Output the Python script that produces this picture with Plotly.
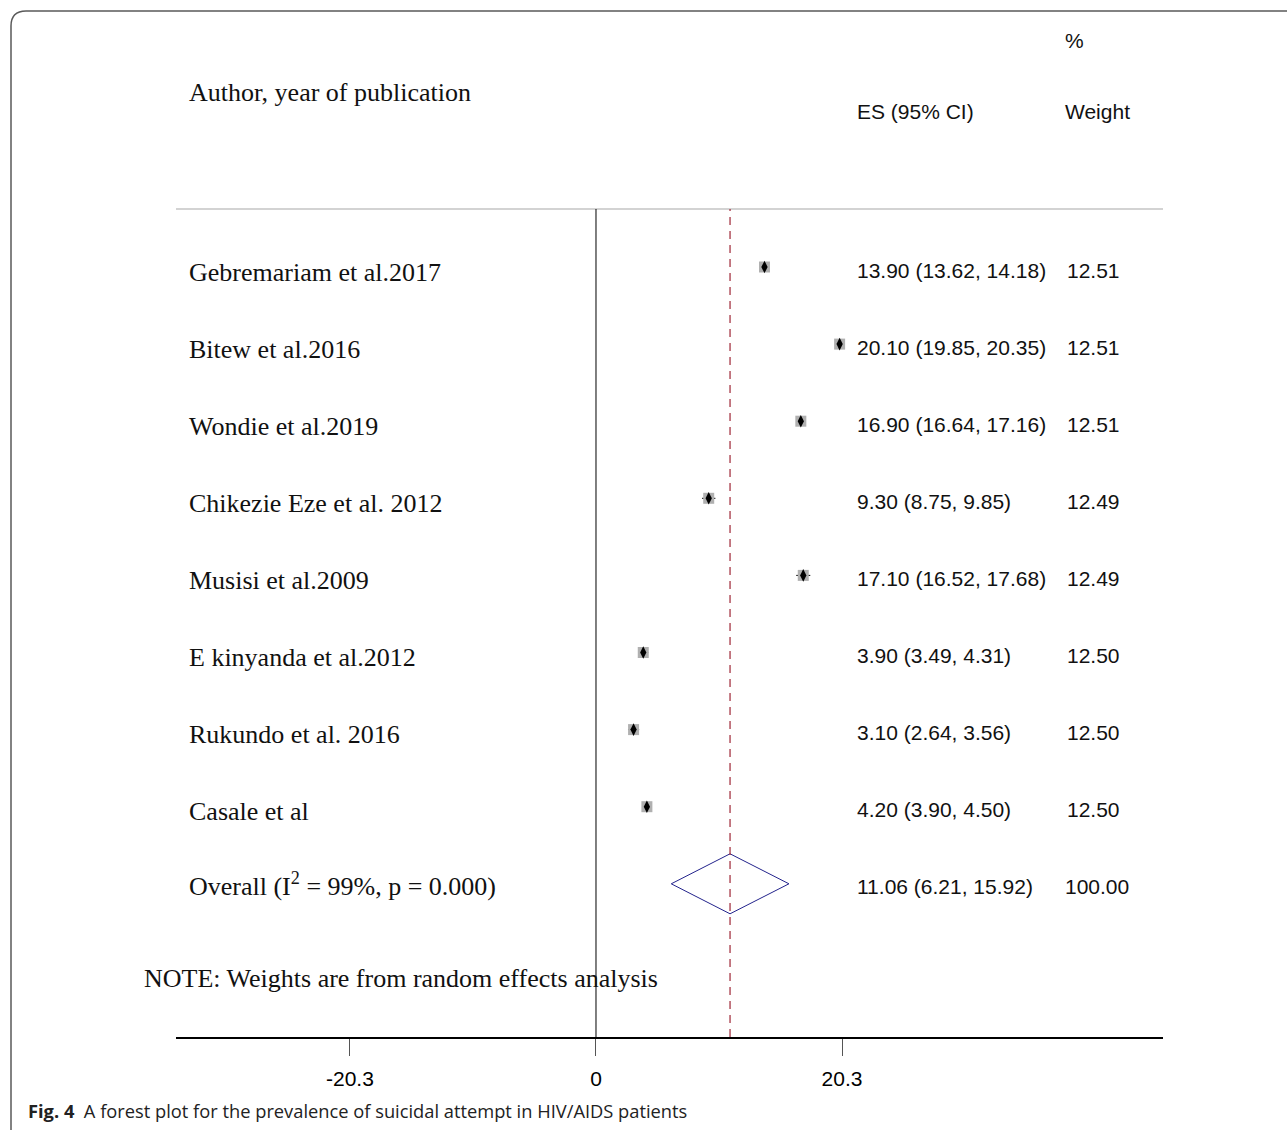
import plotly.graph_objects as go

# ---------------- data ----------------
studies = ["Gebremariam et al.2017", "Bitew et al.2016", "Wondie et al.2019",
           "Chikezie Eze et al. 2012", "Musisi et al.2009", "E kinyanda et al.2012",
           "Rukundo et al. 2016", "Casale et al"]
es = [13.90, 20.10, 16.90, 9.30, 17.10, 3.90, 3.10, 4.20]
ci_lo = [13.62, 19.85, 16.64, 8.75, 16.52, 3.49, 2.64, 3.90]
ci_hi = [14.18, 20.35, 17.16, 9.85, 17.68, 4.31, 3.56, 4.50]
weights = [12.51, 12.51, 12.51, 12.49, 12.49, 12.50, 12.50, 12.50]
overall_label = "Overall (I<sup>2</sup> = 99%, p = 0.000)"
overall_es, overall_lo, overall_hi, overall_w = 11.06, 6.21, 15.92, 100.00
tick_vals = [-20.3, 0, 20.3]
tick_text = ["-20.3", "0", "20.3"]

# ---------------- layout geometry ----------------
W, H = 1287, 1130
ML, MR, MT, MB = 176, 124, 0, 93
PW, PH = W - ML - MR, H - MT - MB
ROW0_PX, ROW_STEP = 267.0, 77.1
y_top = 1 - (ROW0_PX - MT) / ROW_STEP
y_bot = 1 + (H - MB - ROW0_PX) / ROW_STEP
X_RANGE = [-34.65, 46.78]

def px(x):
    return (x - ML) / PW

def py(y):
    return (H - MB - y) / PH

rows = list(range(1, len(studies) + 1))
overall_row = len(studies) + 1

SERIF = "Times New Roman, Liberation Serif, serif"
SANS = "Arial, Liberation Sans, sans-serif"

fig = go.Figure()

# study markers: grey weight box + CI + black diamond
fig.add_trace(go.Scatter(
    x=es, y=rows, mode="markers",
    marker=dict(symbol="square", size=11, color="#b0b0b0", line=dict(width=0)),
    error_x=dict(type="data", symmetric=False,
                 array=[h - e for h, e in zip(ci_hi, es)],
                 arrayminus=[e - l for e, l in zip(es, ci_lo)],
                 color="black", thickness=1, width=0),
    hoverinfo="skip", showlegend=False))
fig.add_trace(go.Scatter(
    x=es, y=rows, mode="markers",
    marker=dict(symbol="diamond-tall", size=9, color="black", line=dict(width=0)),
    hoverinfo="skip", showlegend=False))

# overall diamond
h = 30 / ROW_STEP
fig.add_trace(go.Scatter(
    x=[overall_lo, overall_es, overall_hi, overall_es, overall_lo],
    y=[overall_row, overall_row - h, overall_row, overall_row + h, overall_row],
    mode="lines", line=dict(color="#23238c", width=1),
    hoverinfo="skip", showlegend=False))

shapes = []
# header separator
shapes.append(dict(type="line", xref="paper", yref="paper", x0=0, x1=1,
                   y0=py(209), y1=py(209), line=dict(color="#c4c4c4", width=1.5)))
# null line at 0
shapes.append(dict(type="line", xref="x", yref="paper", x0=0, x1=0,
                   y0=0, y1=py(209), line=dict(color="black", width=1)))
# overall effect dashed line
shapes.append(dict(type="line", xref="x", yref="paper", x0=overall_es, x1=overall_es,
                   y0=0, y1=py(209), line=dict(color="#9e2636", width=1.2, dash="8px,6px")))
# rounded frame
path = (f"M {px(11)},{py(1145)} L {px(11)},{py(26)} "
        f"Q {px(11)},{py(11)} {px(26)},{py(11)} L {px(1300)},{py(11)}")
shapes.append(dict(type="path", xref="paper", yref="paper", path=path,
                   line=dict(color="#5a5a5a", width=1.5)))

ann = []
def add_text(text, x_px, y, yref, font, size, xanchor="left", color="#111"):
    ann.append(dict(text=text, x=px(x_px), xref="paper", y=y, yref=yref,
                    xanchor=xanchor, yanchor="middle", showarrow=False,
                    font=dict(family=font, size=size, color=color)))

# headers
add_text("Author, year of publication", 187, py(92), "paper", SERIF, 26)
add_text("ES (95% CI)", 855, py(112), "paper", SANS, 21)
add_text("%", 1063, py(41), "paper", SANS, 21)
add_text("Weight", 1063, py(112), "paper", SANS, 21)

TEXT_OFF = 5 / ROW_STEP
NUM_OFF = 3 / ROW_STEP
for r, s, e, lo, hi, w in zip(rows, studies, es, ci_lo, ci_hi, weights):
    add_text(s, 187, r + TEXT_OFF, "y", SERIF, 26)
    add_text(f"{e:.2f} ({lo:.2f}, {hi:.2f})", 855, r + NUM_OFF, "y", SANS, 21)
    add_text(f"{w:.2f}", 1065, r + NUM_OFF, "y", SANS, 21)

add_text(overall_label, 187, overall_row + 1 / ROW_STEP, "y", SERIF, 26)
add_text(f"{overall_es:.2f} ({overall_lo:.2f}, {overall_hi:.2f})", 855,
         overall_row + NUM_OFF, "y", SANS, 21)
add_text(f"{overall_w:.2f}", 1063, overall_row + NUM_OFF, "y", SANS, 21)

add_text("NOTE: Weights are from random effects analysis", 142, py(978), "paper", SERIF, 26)

# caption
add_text("<b>Fig. 4</b>  A forest plot for the prevalence of suicidal attempt in HIV/AIDS patients",
         26, py(1110), "paper", "Open Sans, sans-serif", 18.3, color="#222")

fig.update_layout(
    width=W, height=H, autosize=False,
    margin=dict(l=ML, r=MR, t=MT, b=MB, pad=0),
    paper_bgcolor="white", plot_bgcolor="white",
    shapes=shapes, annotations=ann, showlegend=False,
    xaxis=dict(range=X_RANGE, showgrid=False, zeroline=False,
               showline=True, linecolor="black", linewidth=2,
               ticks="outside", ticklen=17, tickwidth=1, tickcolor="#555",
               tickvals=tick_vals, ticktext=tick_text, ticklabelstandoff=5,
               tickfont=dict(family=SANS, size=21, color="black"), fixedrange=True),
    yaxis=dict(range=[y_bot, y_top], visible=False, fixedrange=True),
)

fig.write_html("out.html")
